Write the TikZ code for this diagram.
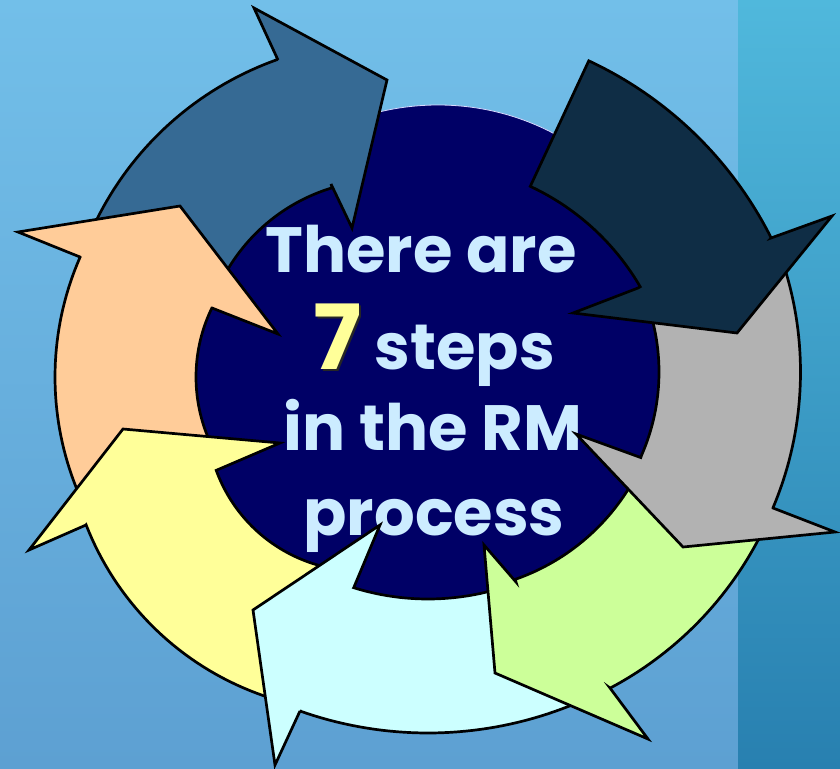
\documentclass[tikz,border=0pt]{standalone}
\usepackage{fontspec}
\newfontfamily\comicfont{Poppins}
\definecolor{bgTop}{RGB}{114,191,233}
\definecolor{bgBot}{RGB}{93,160,210}
\definecolor{stTop}{RGB}{80,184,220}
\definecolor{stBot}{RGB}{40,128,176}
\definecolor{discNavy}{RGB}{0,0,102}
\definecolor{cSteel}{RGB}{54,106,148}
\definecolor{cPeach}{RGB}{255,204,153}
\definecolor{cYellow}{RGB}{255,255,153}
\definecolor{cCyan}{RGB}{204,255,255}
\definecolor{cGreen}{RGB}{204,255,153}
\definecolor{cGray}{RGB}{178,178,178}
\definecolor{cTeal}{RGB}{15,45,69}
\definecolor{txtBlue}{RGB}{204,236,255}
\definecolor{txtYellow}{RGB}{255,255,153}
\begin{document}
\begin{tikzpicture}[x=1pt,y=-1pt,
  ring/.style={draw=black, line width=2.7pt, line join=miter, miter limit=12},
  words/.style={font=\comicfont\bfseries\fontsize{64}{64}\selectfont, text=txtBlue, inner sep=0pt, anchor=base}]
\useasboundingbox (0,0) rectangle (840,768);
\shade[top color=bgTop, bottom color=bgBot] (0,0) rectangle (738,768);
\shade[top color=stTop, bottom color=stBot] (738,0) rectangle (840,768);
\node[circle, minimum size=498pt, fill=discNavy, draw=white!85!blue, line width=0.8pt, inner sep=0pt] (disc) at (438,354) {};
\node[circle, minimum size=500pt, fill=discNavy, inner sep=0pt] (discfill) at (430,380) {};

% text
\node[words] (l1) at (421,272) {There are};
\node[words] (l2) at (434,369) {{\fontsize{90}{90}\selectfont\rlap{\kern2pt\raisebox{-2pt}{\color{black!85}7}}\color{txtYellow}7} steps};
\node[words] (l3) at (433,450) {in the RM};
\node[words] (l4) at (434,535) {process};

% steel blue arrow (top-left)
\draw[ring, fill=cSteel]
  plot[domain=0:1, samples=40, variable=\t] ({385+322*cos(200+50.55*\t)}, {363+322*sin(200+50.55*\t)})
  -- (278,60) -- (254,8) -- (387,80) -- (352,228) -- (331,184)
  -- plot[domain=0:1, samples=40, variable=\t] ({385+183*cos(253.2-53.2*\t)}, {363+183*sin(253.2-53.2*\t)})
  -- cycle;
% peach arrow (left)
\draw[ring, fill=cPeach]
  plot[domain=0:1, samples=40, variable=\t] ({354+299*cos(153+50.65*\t)}, {377+299*sin(153+50.65*\t)})
  -- (80,257) -- (18,232) -- (180,206) -- (278,334) -- (212,308)
  -- plot[domain=0:1, samples=40, variable=\t] ({354+158*cos(205.9-52.9*\t)}, {377+158*sin(205.9-52.9*\t)})
  -- cycle;
% yellow arrow (bottom-left)
\draw[ring, fill=cYellow]
  plot[domain=0:1, samples=40, variable=\t] ({360+294*cos(102+56.7*\t)}, {418+294*sin(102+56.7*\t)})
  -- (86,525) -- (29,550) -- (123,429) -- (280,443) -- (217,470)
  -- plot[domain=0:1, samples=40, variable=\t] ({360+153*cos(160-58*\t)}, {418+153*sin(160-58*\t)})
  -- cycle;
% cyan arrow (bottom)
\draw[ring, fill=cCyan]
  plot[domain=0:1, samples=40, variable=\t] ({428+384*cos(65+44.5*\t)}, {349+384*sin(65+44.5*\t)})
  -- (300,711) -- (275,765) -- (253,610) -- (380,525) -- (354,587)
  -- plot[domain=0:1, samples=40, variable=\t] ({428+250*cos(107.3-42.3*\t)}, {349+250*sin(107.3-42.3*\t)})
  -- cycle;
% green arrow (bottom-right)
\draw[ring, fill=cGreen]
  plot[domain=0:1, samples=40, variable=\t] ({443.5+356*cos(25+37.1*\t)}, {373.5+356*sin(25+37.1*\t)})
  -- (610,688) -- (648,739) -- (495,673) -- (484,545) -- (516,582)
  -- plot[domain=0:1, samples=40, variable=\t] ({443.5+218*cos(70.8-45.8*\t)}, {373.5+218*sin(70.8-45.8*\t)})
  -- cycle;
% gray arrow (right)
\draw[ring, fill=cGray]
  plot[domain=0:1, samples=40, variable=\t] ({451.5+349*cos(-22+44.9*\t)}, {372+349*sin(-22+44.9*\t)})
  -- (773,508) -- (835,532) -- (683,547) -- (576,434) -- (642,458)
  -- plot[domain=0:1, samples=40, variable=\t] ({451.5+207.5*cos(24.3-46.3*\t)}, {372+207.5*sin(24.3-46.3*\t)})
  -- cycle;
% dark teal arrow (top-right)
\draw[ring, fill=cTeal]
  plot[domain=0:1, samples=40, variable=\t] ({425+387.5*cos(-65+38.3*\t)}, {412+387.5*sin(-65+38.3*\t)})
  -- (771,238) -- (832,216) -- (737,333) -- (573,313) -- (638,288)
  -- plot[domain=0:1, samples=40, variable=\t] ({425+249*cos(-30.2-34.8*\t)}, {412+249*sin(-30.2-34.8*\t)})
  -- cycle;
\end{tikzpicture}
\end{document}
